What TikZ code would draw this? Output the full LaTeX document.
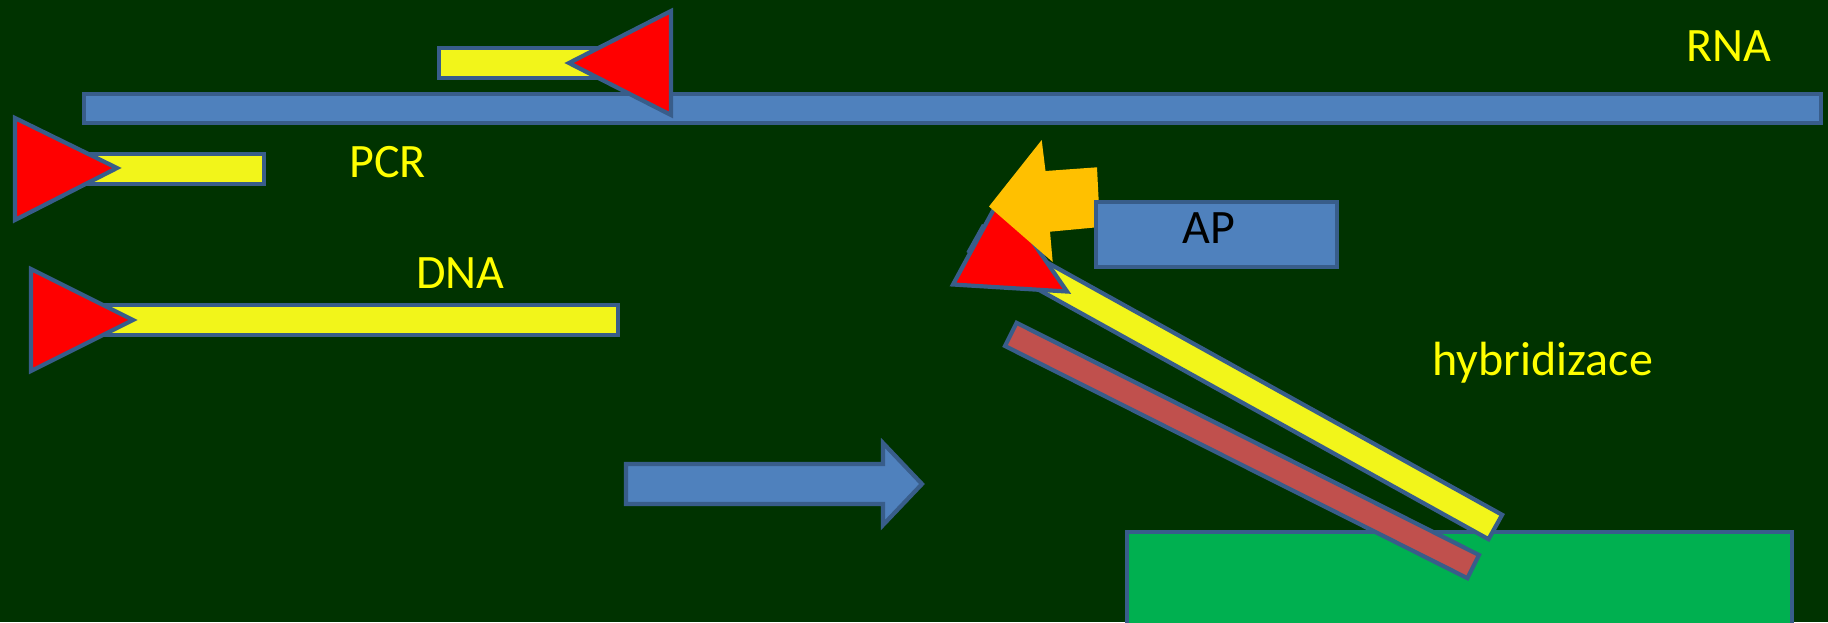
\documentclass[tikz,border=0pt]{standalone}
\usepackage{fontspec}
\setmainfont{Carlito}
\definecolor{bgc}{RGB}{0,51,0}
\definecolor{blfill}{RGB}{79,129,189}
\definecolor{blline}{RGB}{56,93,138}
\definecolor{yelfill}{RGB}{242,245,26}
\definecolor{grnfill}{RGB}{0,176,80}
\definecolor{brnfill}{RGB}{192,80,77}
\definecolor{orgfill}{RGB}{255,192,0}
\definecolor{redfill}{RGB}{255,0,0}
\definecolor{txtyel}{RGB}{255,255,0}
\tikzset{
  shp/.style={draw=blline, line width=2.1pt, line join=miter},
  bluebar/.style={shp, fill=blfill},
  yelbar/.style={shp, fill=yelfill},
  redtri/.style={shp, fill=redfill},
  lbl/.style={text=txtyel, font=\fontsize{24}{29}\selectfont, inner sep=0pt, anchor=base west},
}
\begin{document}
\begin{tikzpicture}[x=0.5pt,y=-0.5pt]
\useasboundingbox (0,0) rectangle (1828,622);
\clip (0,0) rectangle (1828,622);
\fill[bgc] (0,0) rectangle (1828,622);

% RNA strand
\draw[bluebar] (84,94) rectangle (1821,123);
% primer on RNA
\draw[yelbar] (439,48) rectangle (620,78);
\draw[redtri] (671,11) -- (671,115) -- (569,63) -- cycle;

% PCR primer
\draw[yelbar] (60,154) rectangle (264,184);
\draw[redtri] (15,118) -- (15,220) -- (117,168) -- cycle;

% DNA primer
\draw[yelbar] (80,305) rectangle (618,335);
\draw[redtri] (31,269) -- (31,371) -- (133,320) -- cycle;

% big arrow
\draw[bluebar] (626,464) -- (883,464) -- (883,443) -- (922,484) -- (883,525) -- (883,504) -- (626,504) -- cycle;

% membrane
\draw[shp, fill=grnfill] (1127,532) rectangle (1792,640);

% target strand
\draw[shp, fill=brnfill] (1005.0,346.0) -- (1016.6,322.8) -- (1479.0,555.0) -- (1467.4,578.2) -- cycle;

% probe
\draw[yelbar] (969.2,251.2) -- (982.8,226.8) -- (1502.1,514.8) -- (1488.5,539.2) -- cycle;
\draw[redtri] (953,284.5) -- (1001,196) -- (1067,291.5) -- cycle;

% orange arrow
\fill[orgfill] (989,206.5) -- (1041.7,140) -- (1045.5,171) -- (1097,167.3) -- (1100,227) -- (1050,231.7) -- (1052.7,262) -- cycle;

% AP box
\draw[bluebar] (1096,202) rectangle (1337,267);

% labels
\node[lbl] (rna) at (1686,61) {RNA};
\node[lbl] (pcr) at (349,177) {PCR};
\node[lbl] (dna) at (416,288) {DNA};
\node[lbl] (hyb) at (1432,375) {hybridizace};
\node[lbl, text=black] (ap) at (1182,243) {AP};
\end{tikzpicture}
\end{document}
